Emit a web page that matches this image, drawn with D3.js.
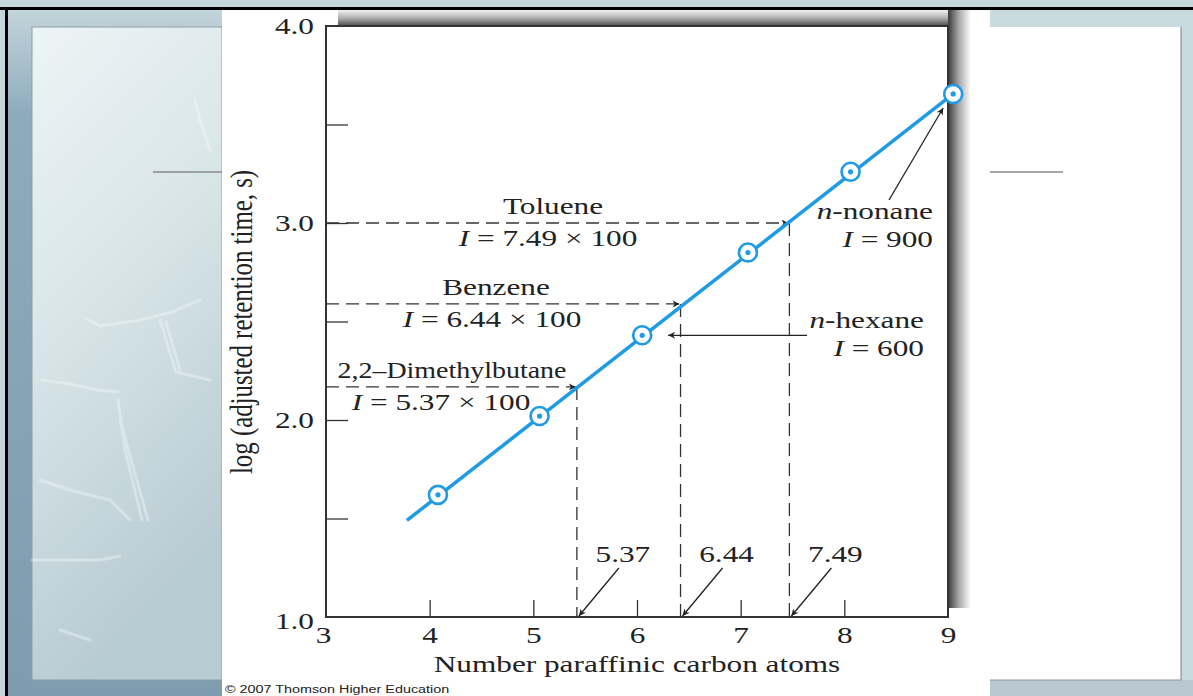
<!DOCTYPE html>
<html>
<head>
<meta charset="utf-8">
<script src="https://cdn.jsdelivr.net/npm/d3@7"></script>
<style>
  body { margin: 0; background: #fff; }
  svg { display: block; }
  .serif { font-family: "Liberation Serif", "DejaVu Serif", serif; fill: #222; }
</style>
</head>
<body>
<script>
// carbon number / log(t'R) of the n-alkane points as drawn
const carbonAtoms = [4.08, 5.06, 6.05, 7.07, 8.06, 9.05];
const logRetention = [1.62, 2.02, 2.43, 2.85, 3.26, 3.655];
// ends of the fitted straight line
const fitX = [3.78, 9.05];
const fitY = [1.49, 3.655];

// unknowns
const compounds = ["2,2\u2013Dimethylbutane", "Benzene", "Toluene"];
const compoundIndex = ["5.37", "6.44", "7.49"];
const compoundLogT = [2.168, 2.589, 3.0];
const compoundCarbon = [5.42, 6.42, 7.47];

const xTicks = [3, 4, 5, 6, 7, 8, 9];
const yTicks = [1, 1.5, 2, 2.5, 3, 3.5, 4];
const yLabels = ["1.0", "", "2.0", "", "3.0", "", "4.0"];

const W = 1193, H = 696;
const FS = 23;      // font size
const SX = 1.36;    // the scanned figure is stretched sideways

const svg = d3.select("body").append("svg")
    .attr("width", W)
    .attr("height", H);

const defs = svg.append("defs");

function grad(id, x2, y2, stops) {
    const g = defs.append("linearGradient").attr("id", id)
        .attr("x1", 0).attr("y1", 0).attr("x2", x2).attr("y2", y2);
    stops.forEach(s => g.append("stop").attr("offset", s[0]).attr("stop-color", s[1]));
}
grad("panelGrad", 0.3, 1, [[0, "#edf4f5"], [0.45, "#d9e6e9"], [1, "#b7cbd2"]]);
grad("stripGrad", 0, 1, [[0, "#c3d4db"], [0.15, "#8eabbc"], [1, "#7f9cae"]]);
grad("topShadow", 0, 1, [[0, "#f2f2f2"], [0.5, "#b0b0b0"], [1, "#4a4a4a"]]);
grad("rightShadow", 1, 0, [[0, "#3a3a3a"], [0.5, "#a8a8a8"], [1, "#f8f8f8"]]);

const arrow = defs.append("marker").attr("id", "arrow")
    .attr("viewBox", "0 0 10 10").attr("refX", 10).attr("refY", 5)
    .attr("markerWidth", 12).attr("markerHeight", 7)
    .attr("markerUnits", "userSpaceOnUse")
    .attr("orient", "auto");
arrow.append("path").attr("d", "M0,0 L10,5 L0,10 L3,5 Z").attr("fill", "#222");

// text helper: stretched serif text anchored at (x, y)
function label(x, y, anchor) {
    return svg.append("text").attr("class", "serif").attr("font-size", FS)
        .attr("text-anchor", anchor)
        .attr("transform", `translate(${x},${y}) scale(${SX},1)`);
}

// ---- slide background ----
svg.append("rect").attr("width", W).attr("height", H).attr("fill", "#c4d5db");
svg.append("rect").attr("x", 8).attr("y", 10).attr("width", 214).attr("height", H)
    .attr("fill", "url(#stripGrad)");
svg.append("rect").attr("x", 32).attr("y", 27).attr("width", 190).attr("height", 653)
    .attr("fill", "url(#panelGrad)").attr("stroke", "#8d9ea5").attr("stroke-width", 1);

// faint molecule sketch
const chem = svg.append("g").attr("fill", "none").attr("stroke", "#f4fafb")
    .attr("stroke-width", 3).attr("opacity", 0.4).attr("stroke-linecap", "round");
[
    "M85,318 L100,326 L140,320 L172,312 L200,300",
    "M160,320 L176,372 L210,380",
    "M166,322 L180,370",
    "M42,380 L70,384 L98,390 L118,392",
    "M118,400 L125,450 L142,520",
    "M40,480 L70,490 L110,500 L130,520",
    "M120,420 L148,520",
    "M32,560 L100,560 L120,556",
    "M195,100 L200,120 L210,150",
    "M60,630 L90,640"
].forEach(d => chem.append("path").attr("d", d));

// right panel
svg.append("rect").attr("x", 990).attr("y", 10).attr("width", 203).attr("height", H)
    .attr("fill", "#c8dade");
svg.append("rect").attr("x", 990).attr("y", 680).attr("width", 203).attr("height", 16)
    .attr("fill", "#b9c9cf");
svg.append("rect").attr("x", 990).attr("y", 27).attr("width", 191).attr("height", 653)
    .attr("fill", "#fff");
svg.append("path").attr("d", "M1181,27 L1181,680 L990,680")
    .attr("fill", "none").attr("stroke", "#8a9499").attr("stroke-width", 1.2);

// title underline of the slide
svg.append("line").attr("x1", 153).attr("x2", 222).attr("y1", 172).attr("y2", 172)
    .attr("stroke", "#8a8a8a").attr("stroke-width", 1.5);
svg.append("line").attr("x1", 990).attr("x2", 1063).attr("y1", 172).attr("y2", 172)
    .attr("stroke", "#8a8a8a").attr("stroke-width", 1.5);

// scanned figure area
svg.append("rect").attr("x", 222).attr("y", 10).attr("width", 768).attr("height", H)
    .attr("fill", "#fff");

// window frame
svg.append("rect").attr("x", 0).attr("y", 7).attr("width", W).attr("height", 3).attr("fill", "#000");
svg.append("rect").attr("x", 5).attr("y", 7).attr("width", 3).attr("height", H).attr("fill", "#000");

// ---- chart ----
const x = d3.scaleLinear().domain([3, 9]).range([326, 948]);
const y = d3.scaleLinear().domain([1, 4]).range([617, 26]);

// drop shadow along top and right of the plot box
svg.append("rect").attr("x", 338).attr("y", 10).attr("width", x(9) - 338 + 2).attr("height", y(4) - 10)
    .attr("fill", "url(#topShadow)");
svg.append("rect").attr("x", x(9)).attr("y", 10).attr("width", 22).attr("height", 598)
    .attr("fill", "url(#rightShadow)");
svg.append("rect").attr("x", x(3)).attr("y", y(4)).attr("width", x(9) - x(3)).attr("height", y(1) - y(4))
    .attr("fill", "#fff").attr("stroke", "#333").attr("stroke-width", 2);

const yAxis = svg.append("g")
    .attr("transform", `translate(${x(3)},0)`)
    .call(d3.axisLeft(y).tickValues(yTicks).tickSize(-22).tickPadding(10)
        .tickFormat((d, i) => yLabels[i]));
yAxis.select(".domain").remove();
yAxis.selectAll(".tick line").attr("stroke", "#333").attr("stroke-width", 1.3)
    .filter(d => d === 1 || d === 4).remove();
yAxis.selectAll(".tick text").attr("class", "serif").attr("font-size", FS)
    .attr("x", 0).attr("transform", `translate(-12,0) scale(${SX},1)`);
yAxis.selectAll(".tick text").filter(d => d === 1).attr("dy", "0.5em");

const xAxis = svg.append("g")
    .attr("transform", `translate(0,${y(1)})`)
    .call(d3.axisBottom(x).tickValues(xTicks).tickSize(-17).tickPadding(10)
        .tickFormat(d3.format("d")));
xAxis.select(".domain").remove();
xAxis.selectAll(".tick line").attr("stroke", "#333").attr("stroke-width", 1.3)
    .filter(d => d === 3 || d === 9).remove();
xAxis.selectAll(".tick text").attr("class", "serif").attr("font-size", FS)
    .attr("transform", `scale(${SX},1)`);
xAxis.selectAll(".tick text").filter(d => d === 3).attr("transform", `translate(-3,0) scale(${SX},1)`);

label(637, 672, "middle").text("Number paraffinic carbon atoms");
svg.append("text").attr("class", "serif").attr("font-size", FS)
    .attr("text-anchor", "middle")
    .attr("transform", `translate(252,322) rotate(-90) scale(1.08,${SX})`)
    .text("log (adjusted retention time, s)");

// dashed read-offs
const dash = svg.append("g").attr("stroke", "#333").attr("stroke-width", 1.3)
    .attr("stroke-dasharray", "13,7").attr("fill", "none");
compounds.forEach((c, i) => {
    dash.append("line")
        .attr("x1", x(3)).attr("x2", x(compoundCarbon[i]) - 1)
        .attr("y1", y(compoundLogT[i])).attr("y2", y(compoundLogT[i]))
        .attr("marker-end", "url(#arrow)");
    dash.append("line")
        .attr("x1", x(compoundCarbon[i])).attr("x2", x(compoundCarbon[i]))
        .attr("y1", y(compoundLogT[i])).attr("y2", y(1));
});

// fitted line and points
const blue = "#1e9be4";
svg.append("path")
    .datum(fitX.map((d, i) => [d, fitY[i]]))
    .attr("d", d3.line().x(d => x(d[0])).y(d => y(d[1])))
    .attr("stroke", blue).attr("stroke-width", 3.5).attr("fill", "none");

const pts = svg.selectAll(".pt")
    .data(carbonAtoms.map((d, i) => [d, logRetention[i]]))
    .enter().append("g")
    .attr("transform", d => `translate(${x(d[0])},${y(d[1])})`);
pts.append("circle").attr("r", 9).attr("fill", "#fff").attr("stroke", blue).attr("stroke-width", 2.6);
pts.append("circle").attr("r", 2.6).attr("fill", blue);

// compound labels
const nameX = [452, 496, 553];
const formulaX = [441, 492, 548];
compounds.forEach((c, i) => {
    const yy = y(compoundLogT[i]);
    const n = label(nameX[i], yy - 9, "middle").text(c);
    // the long name is set a little tighter in the figure
    if (c.length > 12) n.attr("textLength", 229 / SX).attr("lengthAdjust", "spacingAndGlyphs");
    const t = label(formulaX[i], yy + 23, "middle");
    t.append("tspan").attr("font-style", "italic").text("I");
    t.append("tspan").text(` = ${compoundIndex[i]} \u00d7 100`);

    // value label on the x axis with an arrow down to the axis
    const vx = x(compoundCarbon[i]);
    label(vx + 46, 562, "middle").text(compoundIndex[i]);
    svg.append("line").attr("x1", vx + 42).attr("y1", 568).attr("x2", vx + 2).attr("y2", y(1) - 1)
        .attr("stroke", "#222").attr("stroke-width", 1.3).attr("marker-end", "url(#arrow)");
});

// n-alkane callouts
function callout(name, val, xr, yb) {
    const a = label(xr, yb, "end");
    a.append("tspan").attr("font-style", "italic").text("n");
    a.append("tspan").text("-" + name);
    const b = label(xr, yb + 28, "end");
    b.append("tspan").attr("font-style", "italic").text("I");
    b.append("tspan").text(" = " + val);
}
callout("nonane", "900", 933, 219);
callout("hexane", "600", 924, 328);

svg.append("line").attr("x1", 889).attr("y1", 200)
    .attr("x2", x(carbonAtoms[5]) - 10).attr("y2", y(logRetention[5]) + 14)
    .attr("stroke", "#222").attr("stroke-width", 1.3).attr("marker-end", "url(#arrow)");
svg.append("line").attr("x1", 807).attr("y1", y(logRetention[2]))
    .attr("x2", x(carbonAtoms[2]) + 26).attr("y2", y(logRetention[2]))
    .attr("stroke", "#222").attr("stroke-width", 1.3).attr("marker-end", "url(#arrow)");

svg.append("text")
    .attr("transform", "translate(225,693) scale(1.25,1)")
    .attr("font-family", "Liberation Sans, Arial, sans-serif").attr("font-size", 11.5)
    .attr("fill", "#222").text("\u00a9 2007 Thomson Higher Education");
</script>
</body>
</html>
